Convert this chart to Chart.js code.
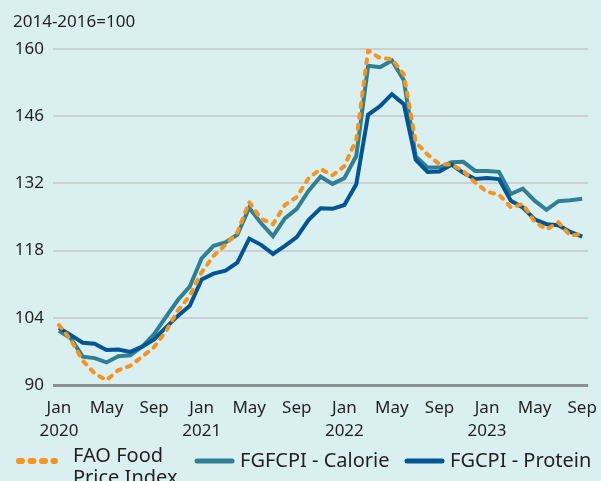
<!DOCTYPE html>
<html>
<head>
<meta charset="utf-8">
<script src="https://cdn.jsdelivr.net/npm/chart.js@4.4.0/dist/chart.umd.min.js"></script>
<style>
  html, body { margin: 0; padding: 0; background: #d9eff0; }
  #wrap { width: 601px; height: 481px; overflow: hidden; }
</style>
</head>
<body>
<div id="wrap"><canvas id="foodChart" width="601" height="481"></canvas></div>
<script>
const months = [
  'Jan 2020','Feb 2020','Mar 2020','Apr 2020','May 2020','Jun 2020','Jul 2020','Aug 2020','Sep 2020','Oct 2020','Nov 2020','Dec 2020',
  'Jan 2021','Feb 2021','Mar 2021','Apr 2021','May 2021','Jun 2021','Jul 2021','Aug 2021','Sep 2021','Oct 2021','Nov 2021','Dec 2021',
  'Jan 2022','Feb 2022','Mar 2022','Apr 2022','May 2022','Jun 2022','Jul 2022','Aug 2022','Sep 2022','Oct 2022','Nov 2022','Dec 2022',
  'Jan 2023','Feb 2023','Mar 2023','Apr 2023','May 2023','Jun 2023','Jul 2023','Aug 2023','Sep 2023'
];
const shownMonths = ['Jan', 'May', 'Sep'];
const yTicks = [90, 104, 118, 132, 146, 160];
const unitNote = '2014-2016=100';

const faoFood = [
  102.5, 99.4, 95.1, 92.4, 91.0, 93.1, 94.0, 95.9, 97.9, 101.2, 105.5, 108.6,
  113.5, 116.9, 119.2, 121.8, 128.1, 124.6, 123.5, 127.5, 129.2, 133.1, 135.0, 133.7,
  135.6, 141.1, 159.7, 158.1, 157.9, 154.7, 140.6, 138.0, 136.0, 135.9, 134.6, 132.2,
  130.2, 129.7, 127.0, 127.7, 124.0, 122.4, 123.9, 121.1, 121.5
];
const calorie = [
  101.3, 99.7, 95.9, 95.6, 94.7, 96.0, 96.2, 98.0, 100.6, 104.2, 107.7, 110.5,
  116.4, 119.0, 119.7, 121.3, 126.9, 123.7, 121.0, 124.7, 126.7, 130.5, 133.4, 131.9,
  133.1, 137.7, 156.5, 156.2, 157.6, 153.5, 137.6, 135.3, 135.3, 136.4, 136.5, 134.6,
  134.6, 134.4, 129.8, 130.9, 128.4, 126.5, 128.3, 128.5, 128.8
];
const protein = [
  101.9, 100.4, 98.8, 98.6, 97.3, 97.4, 96.9, 98.0, 99.5, 102.0, 104.4, 106.5,
  112.0, 113.2, 113.8, 115.5, 120.5, 119.2, 117.3, 119.0, 120.8, 124.4, 126.8, 126.7,
  127.5, 131.8, 146.3, 148.1, 150.6, 148.5, 136.9, 134.4, 134.5, 135.9, 134.2, 132.9,
  133.1, 132.9, 128.4, 127.0, 124.5, 123.5, 123.3, 121.9, 120.9
];

const ORANGE = '#f7941d';
const TEAL = '#2f8095';
const BLUE = '#005596';
const TEXT = '#231f20';
const FONT = '"Noto Sans", "Open Sans", sans-serif';

// title above the axis + legend at the bottom
const extras = {
  id: 'extras',
  afterDraw(chart) {
    const ctx = chart.ctx;
    ctx.save();
    ctx.fillStyle = TEXT;
    ctx.font = '17px ' + FONT;
    ctx.textBaseline = 'alphabetic';
    ctx.textAlign = 'left';
    ctx.fillText(unitNote, 13, 27);

    const ds = chart.data.datasets;
    const items = [
      { ds: ds[0], x0: 16, x1: 57, tx: 73 },
      { ds: ds[1], x0: 194, x1: 234, tx: 240 },
      { ds: ds[2], x0: 404, x1: 444, tx: 450 }
    ];
    const ly = 461;
    items.forEach(it => {
      ctx.beginPath();
      ctx.strokeStyle = it.ds.borderColor;
      if (it.ds.borderDash) {
        ctx.lineWidth = 6;
        ctx.lineCap = 'round';
        ctx.setLineDash([3, 8.5]);
      } else {
        ctx.lineWidth = 5;
        ctx.lineCap = 'round';
        ctx.setLineDash([]);
      }
      ctx.moveTo(it.x0 + 3, ly);
      ctx.lineTo(it.x1 - 2, ly);
      ctx.stroke();
      ctx.font = '20px ' + FONT;
      ctx.fillStyle = TEXT;
      const lines = it.ds.label.split('\n');
      if (lines.length > 1) {
        ctx.textBaseline = 'alphabetic';
        ctx.fillText(lines[0], it.tx, 462);
        ctx.fillText(lines[1], it.tx, 484);
      } else {
        ctx.textBaseline = 'middle';
        ctx.fillText(lines[0], it.tx, ly);
      }
    });
    ctx.restore();
  }
};

const ctx = document.getElementById('foodChart').getContext('2d');
new Chart(ctx, {
  type: 'line',
  data: {
    labels: months,
    datasets: [
      { label: 'FAO Food\nPrice Index', data: faoFood, borderColor: ORANGE, borderWidth: 4,
        borderDash: [4, 7], borderCapStyle: 'round', pointRadius: 0, tension: 0, order: 0 },
      { label: 'FGFCPI - Calorie', data: calorie, borderColor: TEAL, borderWidth: 4,
        pointRadius: 0, tension: 0, order: 2 },
      { label: 'FGCPI - Protein', data: protein, borderColor: BLUE, borderWidth: 4,
        pointRadius: 0, tension: 0, order: 1 }
    ]
  },
  options: {
    responsive: false,
    animation: false,
    layout: { padding: { top: 49, right: 10, left: 0, bottom: 0 } },
    plugins: { legend: { display: false }, tooltip: { enabled: false } },
    scales: {
      x: {
        offset: true,
        grid: { display: false },
        border: { display: false },
        ticks: {
          autoSkip: false, maxRotation: 0, minRotation: 0, padding: 4,
          color: TEXT,
          font: { family: FONT, size: 17, lineHeight: 1.35 },
          callback(value, index) {
            const [m, y] = months[index].split(' ');
            if (!shownMonths.includes(m)) return '';
            return m === 'Jan' ? [m, y] : m;
          }
        },
        afterFit(scale) { scale.height = 96; }
      },
      y: {
        min: 90, max: 160,
        afterBuildTicks(scale) { scale.ticks = yTicks.map(v => ({ value: v })); },
        grid: {
          drawTicks: false,
          color: c => c.tick.value === 90 ? '#8e8f91' : '#cdd0d2',
          lineWidth: c => c.tick.value === 90 ? 3 : 2
        },
        border: { display: false },
        ticks: { padding: 9, color: TEXT, font: { family: FONT, size: 17 } },
        afterFit(scale) { scale.width = 53; }
      }
    }
  },
  plugins: [extras]
});
</script>
</body>
</html>
